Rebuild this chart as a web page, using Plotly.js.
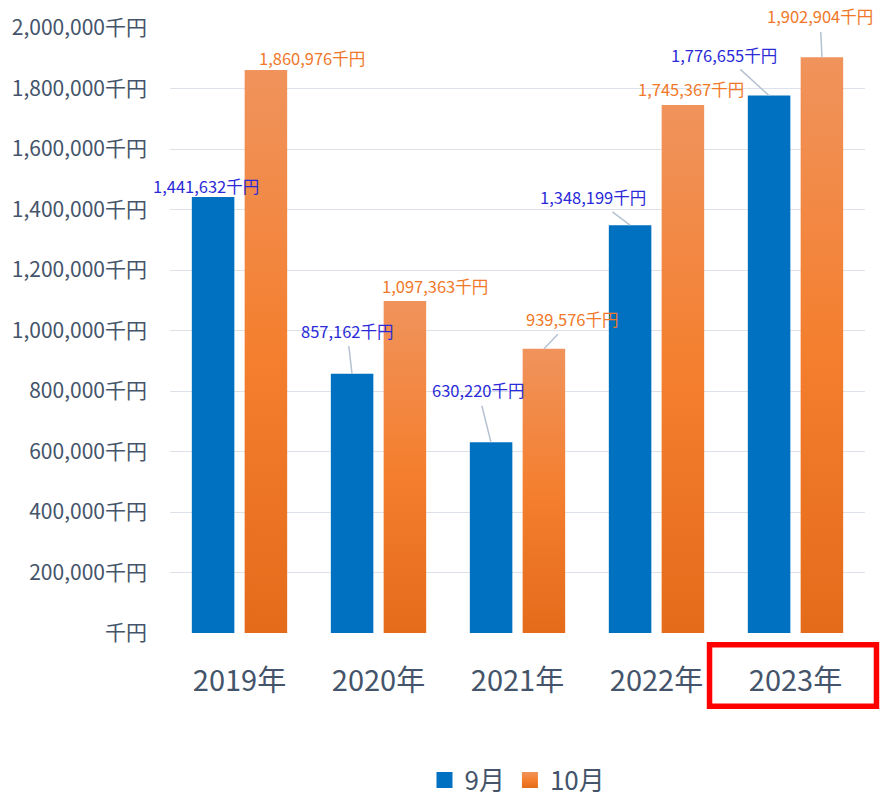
<!DOCTYPE html>
<html>
<head>
<meta charset="utf-8">
<script src="https://cdn.plot.ly/plotly-3.0.1.min.js"></script>
<style>
  html, body { margin: 0; padding: 0; background: #ffffff; }
  #chart { width: 891px; height: 799px; }
</style>
</head>
<body>
<div id="chart"></div>
<script>
// ---- data ----
const categories = ['2019年', '2020年', '2021年', '2022年', '2023年'];
const seriesNames = ['9月', '10月'];
const sepValues = [1441632, 857162, 630220, 1348199, 1776655];
const octValues = [1860976, 1097363, 939576, 1745367, 1902904];
const yTickVals = [0, 200000, 400000, 600000, 800000, 1000000, 1200000, 1400000, 1600000, 1800000, 2000000];
const yTickText = yTickVals.map(v => (v === 0 ? '' : v.toLocaleString('en-US')) + '千円');

// ---- label placement (pixel offsets of label from bar top) ----
const sepLabelOffsets = [[-7.5, -11], [-5, -43], [-13, -52], [-37, -28], [-45, -41]];
const sepLeader = [false, true, true, true, true];
const octLabelOffsets = [[45.5, -12], [30, -15], [28, -29.5], [8, -16], [-2, -41]];
const octLeader = [false, false, true, false, true];

const FONT = '"Noto Sans CJK JP", "Noto Sans", sans-serif';
const BLUE = '#0070C0';
const ORANGE = '#F07E2E';
const AXIS_TEXT = '#44546A';
const SEP_LABEL = '#2A2AD8';
const OCT_LABEL = '#F07828';
const LEADER = '#B6C2D2';
const BAR_SHIFT = 26.5;

const fmt = v => v.toLocaleString('en-US') + '千円';

const traces = [
  {
    type: 'bar', name: seriesNames[0], x: categories, y: sepValues,
    marker: { color: BLUE, line: { width: 0 } }, hoverinfo: 'x+y+name'
  },
  {
    type: 'bar', name: seriesNames[1], x: categories, y: octValues,
    marker: { color: ORANGE, line: { width: 0 } }, hoverinfo: 'x+y+name'
  }
];

function makeLabels(values, offsets, leaders, shift, color) {
  return values.map((v, i) => ({
    x: categories[i], y: v, xref: 'x', yref: 'y',
    xshift: shift,
    text: fmt(v),
    showarrow: true, arrowhead: 0, arrowwidth: 1.5,
    arrowcolor: leaders[i] ? LEADER : 'rgba(0,0,0,0)',
    ax: offsets[i][0], ay: offsets[i][1],
    standoff: 0, startstandoff: 2,
    font: { family: FONT, size: 16.5, color: color }
  }));
}

const annotations = []
  .concat(makeLabels(sepValues, sepLabelOffsets, sepLeader, -BAR_SHIFT, SEP_LABEL))
  .concat(makeLabels(octValues, octLabelOffsets, octLeader, BAR_SHIFT, OCT_LABEL));

const layout = {
  width: 891, height: 799,
  margin: { l: 170, r: 26, t: 28, b: 166, pad: 0, autoexpand: false },
  paper_bgcolor: '#ffffff', plot_bgcolor: '#ffffff',
  font: { family: FONT, color: AXIS_TEXT },
  barmode: 'group', bargap: 0.24, bargroupgap: 0.195,
  showlegend: true,
  legend: {
    orientation: 'h', x: 0.5, xanchor: 'center', y: -0.243, yanchor: 'middle',
    font: { family: FONT, size: 26, color: AXIS_TEXT }, itemgap: 16,
    traceorder: 'normal'
  },
  xaxis: {
    type: 'category', range: [-0.5, categories.length - 0.5], autorange: false,
    showgrid: false, zeroline: false, showline: false,
    ticks: '', ticklabelstandoff: 28, automargin: false,
    tickfont: { family: FONT, size: 29, color: AXIS_TEXT }
  },
  yaxis: {
    range: [0, 2000000], autorange: false, tickmode: 'array', tickvals: yTickVals, ticktext: yTickText,
    showgrid: true, gridcolor: '#DDE2E9', gridwidth: 1.3, automargin: false,
    zeroline: false, showline: false, ticks: '', ticklabelstandoff: 22,
    tickfont: { family: FONT, size: 21, color: AXIS_TEXT }
  },
  annotations: annotations,
  shapes: [{
    type: 'rect', xref: 'paper', yref: 'paper',
    x0: 0.7763, x1: 1.0165, y0: -0.1212, y1: -0.0195,
    line: { color: '#FF0000', width: 5.5 }, fillcolor: 'rgba(0,0,0,0)', layer: 'above'
  }]
};

function applyGradient(gd) {
  const svg = gd.querySelector('.main-svg');
  if (!svg) return;
  let defs = svg.querySelector('defs');
  if (!defs) { defs = document.createElementNS('http://www.w3.org/2000/svg', 'defs'); svg.insertBefore(defs, svg.firstChild); }
  if (!svg.querySelector('#orangeGrad')) {
    const g = document.createElementNS('http://www.w3.org/2000/svg', 'linearGradient');
    g.setAttribute('id', 'orangeGrad');
    g.setAttribute('x1', '0'); g.setAttribute('y1', '0');
    g.setAttribute('x2', '0'); g.setAttribute('y2', '1');
    [['0', '#F0935C'], ['0.5', '#F47F2F'], ['1', '#E46B1A']].forEach(s => {
      const st = document.createElementNS('http://www.w3.org/2000/svg', 'stop');
      st.setAttribute('offset', s[0]); st.setAttribute('stop-color', s[1]);
      g.appendChild(st);
    });
    defs.appendChild(g);
  }
  const barTraces = gd.querySelectorAll('.barlayer .trace');
  if (barTraces[1]) barTraces[1].querySelectorAll('path').forEach(p => { p.style.fill = 'url(#orangeGrad)'; });
  const legendPts = gd.querySelectorAll('.legend .traces .legendpoints path');
  legendPts.forEach((p, i) => {
    p.setAttribute('d', 'M8,8H-8V-8H8Z');
    if (i === 1) p.style.fill = 'url(#orangeGrad)';
  });
}

const gd = document.getElementById('chart');
Plotly.newPlot(gd, traces, layout, { displayModeBar: false, responsive: false }).then(() => {
  applyGradient(gd);
  gd.on('plotly_afterplot', () => applyGradient(gd));
});
</script>
</body>
</html>
